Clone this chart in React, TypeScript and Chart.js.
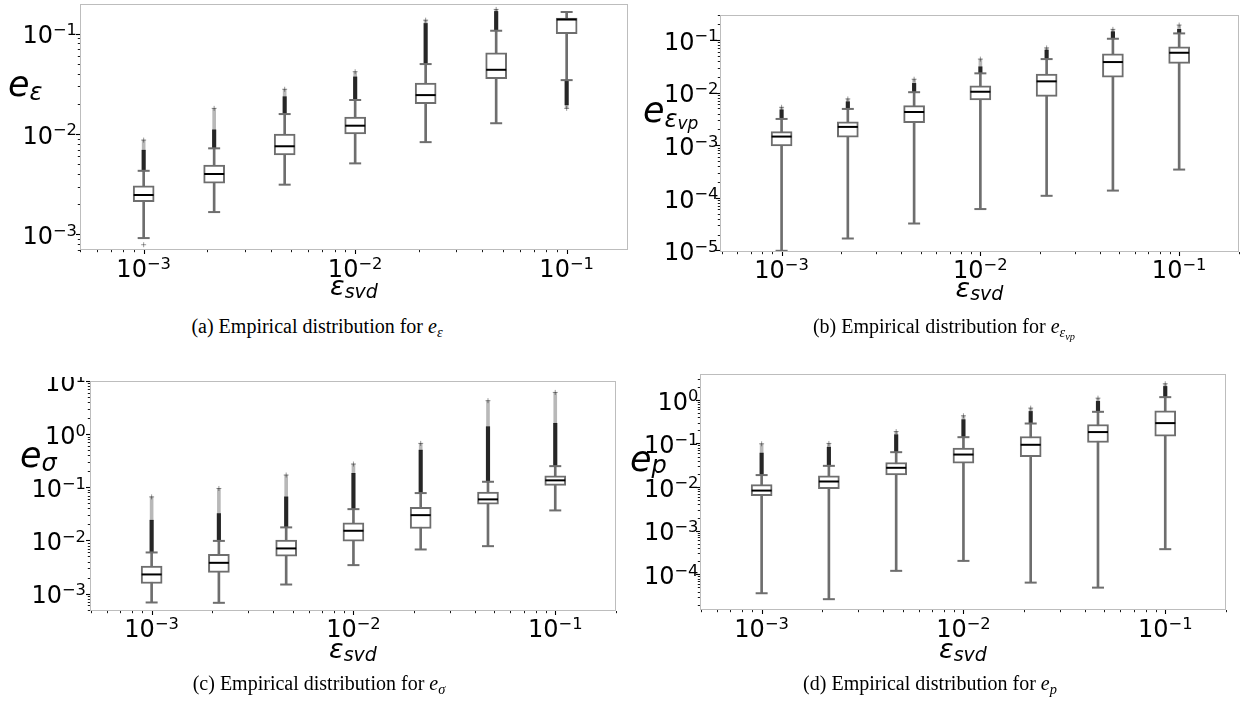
import React, { useEffect, useRef } from "react";
import { Chart, registerables } from "chart.js";
Chart.register(...registerables);

// ---------------- data ----------------
// x positions: eps_svd tolerances
const epsSvd = [0.001, 0.002154, 0.004642, 0.01, 0.02154, 0.04642, 0.1];

// (a) e_eps
const aWhiskerLow = [9.2e-4, 1.67e-3, 3.13e-3, 5.1e-3, 8.3e-3, 1.28e-2, 3.44e-2];
const aQ1 = [2.12e-3, 3.24e-3, 6.18e-3, 1.0e-2, 2.0e-2, 3.55e-2, 0.0995];
const aMedian = [2.47e-3, 4.0e-3, 7.55e-3, 1.21e-2, 2.44e-2, 4.36e-2, 0.138];
const aQ3 = [3.04e-3, 4.9e-3, 1.0e-2, 1.47e-2, 3.21e-2, 6.44e-2, 0.1426];
const aWhiskerHigh = [4.3e-3, 7.2e-3, 1.58e-2, 2.18e-2, 4.97e-2, 0.1067, 0.164];
const aOutDense = [6.9e-3, 1.1e-2, 2.35e-2, 3.7e-2, 0.126, 0.166, null];
const aOutMax = [8.7e-3, 1.8e-2, 2.79e-2, 4.17e-2, 0.136, 0.174, null];
const aLowOutDense = [null, null, null, null, null, null, 0.0195];
const aLowOutMin = [7.9e-4, null, null, null, null, null, 0.018];

// (b) e_eps_vp
const bWhiskerLow = [9.8e-6, 1.68e-5, 3.24e-5, 6.1e-5, 1.09e-4, 1.37e-4, 3.44e-4];
const bQ1 = [9.7e-4, 1.42e-3, 2.68e-3, 7.25e-3, 8.5e-3, 1.98e-2, 3.6e-2];
const bMedian = [1.46e-3, 2.23e-3, 4.28e-3, 1.04e-2, 1.64e-2, 3.82e-2, 5.74e-2];
const bQ3 = [1.81e-3, 2.8e-3, 5.65e-3, 1.35e-2, 2.26e-2, 5.5e-2, 7.46e-2];
const bWhiskerHigh = [3.16e-3, 4.9e-3, 1.02e-2, 2.33e-2, 4.35e-2, 0.106, 0.134];
const bOutDense = [4.7e-3, 6.7e-3, 1.5e-2, 3.1e-2, 6.45e-2, 0.144, 0.16];
const bOutMax = [5.27e-3, 7.6e-3, 1.8e-2, 4.35e-2, 7.1e-2, 0.16, 0.193];

// (c) e_sigma
const cWhiskerLow = [6.8e-4, 6.7e-4, 1.48e-3, 3.43e-3, 6.76e-3, 7.8e-3, 0.0367];
const cQ1 = [1.55e-3, 2.5e-3, 5.06e-3, 9.7e-3, 1.68e-2, 0.0483, 0.109];
const cMedian = [2.29e-3, 3.79e-3, 7.07e-3, 1.52e-2, 2.99e-2, 0.0592, 0.135];
const cQ3 = [3.28e-3, 5.5e-3, 1.01e-2, 2.14e-2, 4.19e-2, 0.0813, 0.165];
const cWhiskerHigh = [5.94e-3, 9.8e-3, 1.76e-2, 3.88e-2, 7.78e-2, 0.127, 0.25];
const cOutDense = [0.024, 0.032, 0.066, 0.183, 0.5, 1.38, 1.6];
const cOutMax = [0.066, 0.095, 0.17, 0.274, 0.67, 4.26, 6.1];

// (d) e_p
const dWhiskerLow = [3.68e-5, 2.69e-5, 1.2e-4, 2.03e-4, 6.45e-5, 4.95e-5, 3.77e-4];
const dQ1 = [6.38e-3, 9.2e-3, 1.9e-2, 3.53e-2, 5.0e-2, 0.105, 0.147];
const dMedian = [8.3e-3, 1.34e-2, 2.76e-2, 5.56e-2, 9.3e-2, 0.182, 0.292];
const dQ3 = [1.14e-2, 1.81e-2, 3.65e-2, 7.8e-2, 0.144, 0.272, 0.56];
const dWhiskerHigh = [1.88e-2, 3.06e-2, 6.3e-2, 0.139, 0.286, 0.53, 1.15];
const dOutDense = [0.06, 0.082, 0.158, 0.35, 0.54, 0.92, 2.02];
const dOutMax = [0.098, 0.1, 0.187, 0.43, 0.645, 1.09, 2.33];

const none = [null, null, null, null, null, null, null];

// ---------------- types / helpers ----------------
type V = number | null;
type Stats = {
  low: V[]; q1: V[]; med: V[]; q3: V[]; high: V[];
  outDense: V[]; outMax: V[]; lowOutDense: V[]; lowOutMin: V[];
};
type Part = { t: string; size: number; dy: number };
type PanelCfg = {
  left: number; top: number; width: number; height: number;
  yAxisW: number; xAxisH: number; padTop: number; padRight: number;
  xMin: number; xMax: number; yMin: number; yMax: number;
  yTickGap: number; xTickBase: number;
  yTitle: { x: number; y: number; parts: Part[] };
  xTitle: { y: number; parts: Part[] };
  stats: Stats;
};

const GREY = "#6e6e6e";
const FONT = '"DejaVu Sans", sans-serif';

function pairs(a: V[], b: V[]) {
  const out: any[] = [];
  epsSvd.forEach((x, i) => {
    if (a[i] != null && b[i] != null) out.push({ x, y: [a[i], b[i]] });
  });
  return out;
}
function pts(a: V[]) {
  const out: any[] = [];
  epsSvd.forEach((x, i) => {
    if (a[i] != null) out.push({ x, y: a[i] });
  });
  return out;
}

function logTicks(min: number, max: number) {
  const t: any[] = [];
  const e0 = Math.floor(Math.log10(min));
  const e1 = Math.ceil(Math.log10(max));
  for (let e = e0; e <= e1; e++) {
    for (let m = 1; m <= 9; m++) {
      const v = m * Math.pow(10, e);
      if (v >= min * 0.9999 && v <= max * 1.0001) t.push({ value: v, major: m === 1 });
    }
  }
  return t;
}

function drawPow(ctx: CanvasRenderingContext2D, exp: number, x: number, baseY: number, align: "right" | "center", size: number) {
  const base = "10";
  const sup = (exp < 0 ? "\u2212" : "") + Math.abs(exp);
  const supSize = size * 0.68;
  ctx.font = `${size}px ${FONT}`;
  const wb = ctx.measureText(base).width;
  ctx.font = `${supSize}px ${FONT}`;
  const ws = ctx.measureText(sup).width;
  const total = wb + ws;
  const x0 = align === "right" ? x - total : x - total / 2;
  ctx.fillStyle = "#000";
  ctx.textAlign = "left";
  ctx.textBaseline = "alphabetic";
  ctx.font = `${size}px ${FONT}`;
  ctx.fillText(base, x0, baseY);
  ctx.font = `${supSize}px ${FONT}`;
  ctx.fillText(sup, x0 + wb, baseY - size * 0.35);
}

function partsWidth(ctx: CanvasRenderingContext2D, parts: Part[]) {
  let w = 0;
  for (const p of parts) {
    ctx.font = `italic ${p.size}px ${FONT}`;
    w += ctx.measureText(p.t).width;
  }
  return w;
}
function drawParts(ctx: CanvasRenderingContext2D, parts: Part[], x: number, y: number) {
  let cx = x;
  ctx.fillStyle = "#000";
  ctx.textAlign = "left";
  ctx.textBaseline = "alphabetic";
  for (const p of parts) {
    ctx.font = `italic ${p.size}px ${FONT}`;
    ctx.fillText(p.t, cx, y + p.dy);
    cx += ctx.measureText(p.t).width;
  }
}

function makeDecor(cfg: PanelCfg) {
  return {
    id: "decor",
    afterDraw(chart: any) {
      const ctx: CanvasRenderingContext2D = chart.ctx;
      const { left, right, top, bottom } = chart.chartArea;
      const xs = chart.scales.x;
      const ys = chart.scales.y;
      ctx.save();
      // frame
      ctx.strokeStyle = "#bdbdbd";
      ctx.lineWidth = 1;
      ctx.strokeRect(left + 0.5, top + 0.5, right - left - 1, bottom - top - 1);
      // ticks
      ctx.strokeStyle = "#000";
      for (const t of ys.ticks) {
        const y = Math.round(ys.getPixelForValue(t.value)) + 0.5;
        const len = t.major ? 4 : 2.2;
        ctx.lineWidth = t.major ? 1.1 : 0.9;
        ctx.beginPath();
        ctx.moveTo(left, y);
        ctx.lineTo(left - len, y);
        ctx.stroke();
      }
      for (const t of xs.ticks) {
        const x = Math.round(xs.getPixelForValue(t.value)) + 0.5;
        const len = t.major ? 4 : 2.2;
        ctx.lineWidth = t.major ? 1.1 : 0.9;
        ctx.beginPath();
        ctx.moveTo(x, bottom);
        ctx.lineTo(x, bottom + len);
        ctx.stroke();
      }
      // tick labels
      for (const t of ys.ticks) {
        if (!t.major) continue;
        const y = ys.getPixelForValue(t.value);
        drawPow(ctx, Math.round(Math.log10(t.value)), left - cfg.yTickGap, y + 24 * 0.365 + 1, "right", 24);
      }
      for (const t of xs.ticks) {
        if (!t.major) continue;
        const x = xs.getPixelForValue(t.value);
        drawPow(ctx, Math.round(Math.log10(t.value)), x, bottom + cfg.xTickBase, "center", 24);
      }
      // axis titles
      drawParts(ctx, cfg.yTitle.parts, cfg.yTitle.x - cfg.left, cfg.yTitle.y - cfg.top);
      const w = partsWidth(ctx, cfg.xTitle.parts);
      drawParts(ctx, cfg.xTitle.parts, (left + right) / 2 - w / 2, cfg.xTitle.y - cfg.top);
      ctx.restore();
    },
  };
}

function buildDatasets(s: Stats) {
  const barBase = { type: "bar", grouped: false, borderSkipped: false };
  return [
    { ...barBase, label: "whiskers", data: pairs(s.low, s.high), backgroundColor: GREY, borderWidth: 0, barThickness: 2, order: 10 },
    { ...barBase, label: "outliers sparse", data: [...pairs(s.outDense, s.outMax), ...pairs(s.lowOutMin, s.lowOutDense)], backgroundColor: "rgba(0,0,0,0.28)", borderWidth: 0, barThickness: 3, order: 9 },
    { ...barBase, label: "outliers", data: [...pairs(s.high, s.outDense), ...pairs(s.lowOutDense, s.low)], backgroundColor: "rgba(0,0,0,0.85)", borderWidth: 0, barThickness: 3.5, order: 8 },
    { ...barBase, label: "IQR", data: pairs(s.q1, s.q3), backgroundColor: "#ffffff", borderColor: GREY, borderWidth: 2, barThickness: 21, order: 5 },
    { type: "line", label: "extremes", data: [...pts(s.outMax), ...pts(s.lowOutMin)], showLine: false, pointStyle: "cross", pointRadius: 2.5, pointBorderColor: "rgba(0,0,0,0.4)", borderColor: "rgba(0,0,0,0.4)", pointBorderWidth: 1, order: 4 },
    { type: "line", label: "caps", data: [...pts(s.low), ...pts(s.high)], showLine: false, pointStyle: "line", pointRadius: 6, pointBorderColor: GREY, borderColor: GREY, pointBorderWidth: 2, order: 3 },
    { type: "line", label: "median", data: pts(s.med), showLine: false, pointStyle: "line", pointRadius: 10, pointBorderColor: "#000", borderColor: "#000", pointBorderWidth: 2, order: 1 },
  ];
}

const epsX: Part[] = [
  { t: "\u03B5", size: 27, dy: 0 },
  { t: "svd", size: 19, dy: 3 },
];

const panels: PanelCfg[] = [
  {
    left: 0, top: 0, width: 632, height: 310,
    yAxisW: 80, xAxisH: 60, padTop: 4, padRight: 4,
    xMin: 5.0e-4, xMax: 0.195, yMin: 7.0e-4, yMax: 0.197,
    yTickGap: 3, xTickBase: 27,
    yTitle: { x: 8, y: 96, parts: [{ t: "e", size: 35, dy: 0 }, { t: "\u03B5", size: 24, dy: 4 }] },
    xTitle: { y: 295, parts: epsX },
    stats: { low: aWhiskerLow, q1: aQ1, med: aMedian, q3: aQ3, high: aWhiskerHigh, outDense: aOutDense, outMax: aOutMax, lowOutDense: aLowOutDense, lowOutMin: aLowOutMin },
  },
  {
    left: 632, top: 0, width: 614, height: 310,
    yAxisW: 88, xAxisH: 58, padTop: 15, padRight: 7,
    xMin: 4.9e-4, xMax: 0.2, yMin: 9.3e-6, yMax: 0.3,
    yTickGap: 1.5, xTickBase: 26,
    yTitle: { x: 643, y: 122, parts: [{ t: "e", size: 35, dy: 0 }, { t: "\u03B5", size: 24, dy: 5 }, { t: "vp", size: 17, dy: 7 }] },
    xTitle: { y: 297, parts: epsX },
    stats: { low: bWhiskerLow, q1: bQ1, med: bMedian, q3: bQ3, high: bWhiskerHigh, outDense: bOutDense, outMax: bOutMax, lowOutDense: none, lowOutMin: none },
  },
  {
    left: 0, top: 377, width: 632, height: 300,
    yAxisW: 90, xAxisH: 66, padTop: 4, padRight: 16,
    xMin: 4.95e-4, xMax: 0.2, yMin: 4.7e-4, yMax: 10,
    yTickGap: 4, xTickBase: 26,
    yTitle: { x: 20, y: 467, parts: [{ t: "e", size: 35, dy: 0 }, { t: "\u03C3", size: 24, dy: 4 }] },
    xTitle: { y: 658, parts: epsX },
    stats: { low: cWhiskerLow, q1: cQ1, med: cMedian, q3: cQ3, high: cWhiskerHigh, outDense: cOutDense, outMax: cOutMax, lowOutDense: none, lowOutMin: none },
  },
  {
    left: 620, top: 340, width: 626, height: 337,
    yAxisW: 80, xAxisH: 67, padTop: 34, padRight: 20,
    xMin: 4.95e-4, xMax: 0.2, yMin: 1.52e-5, yMax: 3.9,
    yTickGap: 1.5, xTickBase: 27,
    yTitle: { x: 630, y: 471, parts: [{ t: "e", size: 35, dy: 0 }, { t: "p", size: 24, dy: 2 }] },
    xTitle: { y: 658, parts: epsX },
    stats: { low: dWhiskerLow, q1: dQ1, med: dMedian, q3: dQ3, high: dWhiskerHigh, outDense: dOutDense, outMax: dOutMax, lowOutDense: none, lowOutMin: none },
  },
];

function Panel({ cfg }: { cfg: PanelCfg }) {
  const ref = useRef<HTMLCanvasElement | null>(null);
  useEffect(() => {
    if (!ref.current) return;
    const afterBuildTicks = (scale: any) => {
      scale.ticks = logTicks(scale.min, scale.max);
    };
    const chart = new Chart(ref.current, {
      type: "bar",
      data: { datasets: buildDatasets(cfg.stats) as any },
      options: {
        animation: false,
        responsive: false,
        devicePixelRatio: 1,
        events: [],
        layout: { autoPadding: false, padding: { top: cfg.padTop, right: cfg.padRight, left: 0, bottom: 0 } },
        plugins: { legend: { display: false }, tooltip: { enabled: false } },
        scales: {
          x: {
            type: "logarithmic", min: cfg.xMin, max: cfg.xMax, offset: false,
            grid: { display: false, offset: false }, border: { display: false },
            ticks: { display: false },
            afterBuildTicks,
            afterFit: (s: any) => { s.height = cfg.xAxisH; },
          },
          y: {
            type: "logarithmic", min: cfg.yMin, max: cfg.yMax, beginAtZero: false,
            grid: { display: false }, border: { display: false },
            ticks: { display: false },
            afterBuildTicks,
            afterFit: (s: any) => { s.width = cfg.yAxisW; },
          },
        },
      } as any,
      plugins: [makeDecor(cfg)],
    });
    return () => chart.destroy();
  }, [cfg]);
  return (
    <canvas
      ref={ref}
      width={cfg.width}
      height={cfg.height}
      style={{ position: "absolute", left: cfg.left, top: cfg.top, width: cfg.width, height: cfg.height }}
    />
  );
}

const captionLabels = ["(a)", "(b)", "(c)", "(d)"];
const captionText = "Empirical distribution for";

const subStyle: React.CSSProperties = { fontSize: "0.72em", verticalAlign: "-0.28em", lineHeight: 0 };

function Caption({ idx, cx, baseline }: { idx: number; cx: number; baseline: number }) {
  const sym = [
    <><i>e</i><sub style={subStyle}><i>ε</i></sub></>,
    <><i>e</i><sub style={subStyle}><i>ε</i><sub style={subStyle}><i>vp</i></sub></sub></>,
    <><i>e</i><sub style={subStyle}><i>σ</i></sub></>,
    <><i>e</i><sub style={subStyle}><i>p</i></sub></>,
  ][idx];
  return (
    <div
      style={{
        position: "absolute",
        left: cx,
        top: baseline - 16.75,
        transform: "translateX(-50%)",
        fontFamily: '"Liberation Serif", "Times New Roman", serif',
        fontSize: 20,
        lineHeight: "20px",
        whiteSpace: "nowrap",
        color: "#000",
      }}
    >
      {captionLabels[idx]} {captionText} {sym}
    </div>
  );
}

export default function App() {
  return (
    <div style={{ position: "absolute", left: 0, top: 0, width: 1246, height: 705, background: "#fff", overflow: "hidden" }}>
      {panels.map((p, i) => (
        <Panel key={i} cfg={p} />
      ))}
      <Caption idx={0} cx={317} baseline={333} />
      <Caption idx={1} cx={944} baseline={333} />
      <Caption idx={2} cx={319} baseline={690} />
      <Caption idx={3} cx={930} baseline={690} />
    </div>
  );
}
